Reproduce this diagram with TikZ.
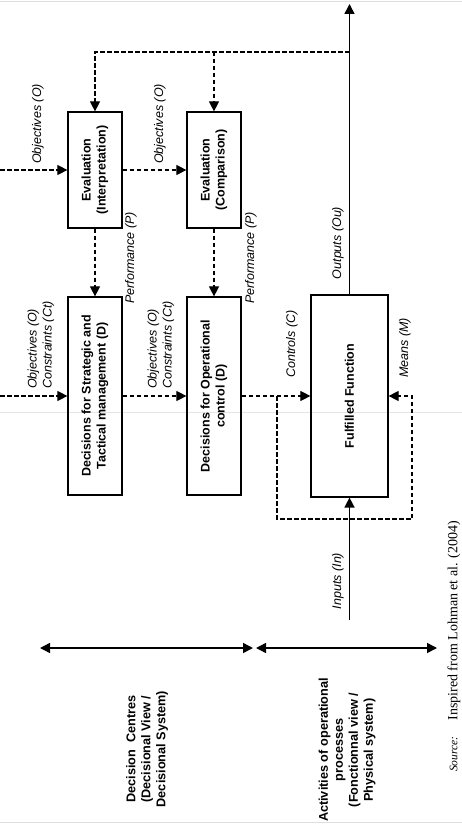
\documentclass[tikz,border=0pt]{standalone}
\usepackage{fontspec}
\setmainfont{Liberation Sans}
\newfontfamily\srcfont{Liberation Serif}
\usetikzlibrary{arrows.meta}
\begin{document}
\begin{tikzpicture}[x=1pt,y=-1pt,
  box/.style={draw, line width=1.2pt, minimum width=54pt, inner sep=0pt,
    font=\bfseries\fontsize{12.5}{15}\selectfont},
  lab/.style={rotate=90, inner sep=0pt, font=\itshape\fontsize{12.5}{15}\selectfont},
  blab/.style={rotate=90, inner sep=0pt, align=center, font=\bfseries\fontsize{12.7}{15}\selectfont},
  dl/.style={dash pattern=on 4.5pt off 2.5pt, line width=1.1pt},
  tip/.style={-{Triangle[length=10pt,width=10pt]}},
  solidl/.style={line width=1.5pt},
  artifact/.style={draw=gray!25, line width=0.8pt}
]
\useasboundingbox (0,0) rectangle (462,826);
% faint scan lines
\draw[artifact] (0,1.5) -- (462,1.5);
\draw[artifact] (0,822) -- (462,822);
\draw[draw=gray!20, line width=0.5pt] (0,412) -- (462,412);

% boxes
\node[box, minimum height=116pt] (b1) at (95,170)
  {\rotatebox{90}{\begin{tabular}{@{}c@{}}Evaluation\\(Interpretation)\end{tabular}}};
\node[box, minimum height=116pt] (b2) at (214,170)
  {\rotatebox{90}{\begin{tabular}{@{}c@{}}Evaluation\\(Comparison)\end{tabular}}};
\node[box, minimum height=198pt] (b3) at (95,396)
  {\rotatebox{90}{\begin{tabular}{@{}c@{}}Decisions for Strategic and\\Tactical management (D)\end{tabular}}};
\node[box, minimum height=198pt] (b4) at (214,396)
  {\rotatebox{90}{\begin{tabular}{@{}c@{}}Decisions for Operational\\control (D)\end{tabular}}};
\node[box, minimum width=77pt, minimum height=202pt] (b5) at (349.5,396)
  {\rotatebox{90}{Fulfilled Function}};

% coordinates
\coordinate (inE) at (0,170);
\coordinate (inD) at (0,396);
\coordinate (topR) at (349.5,52);
\coordinate (topM) at (214,52);
\coordinate (outEnd) at (349.5,4);
\coordinate (inStart) at (349.5,620);
\coordinate (fbA) at (277,396);
\coordinate (fbB) at (412,519);
\coordinate (da1) at (40,648);
\coordinate (da2) at (253,648);
\coordinate (da3) at (256,648);
\coordinate (da4) at (437,648);

% dashed connectors
\draw[dl, tip] (inE) -- (b1.west);
\draw[dl, tip] (b1.east) -- (b2.west);
\draw[dl, tip] (topR) -| (b1.north);
\draw[dl, tip] (topM) -- (b2.north);
\draw[dl, tip] (b1.south) -- (b3.north);
\draw[dl, tip] (b2.south) -- (b4.north);
\draw[dl, tip] (inD) -- (b3.west);
\draw[dl, tip] (b3.east) -- (b4.west);
\draw[dl, tip] (b4.east) -- (b5.west);
\draw[dl, tip] (fbA) |- (fbB) |- (b5.east);

% solid connectors
\draw[solidl, tip] (b5.north) -- (outEnd);
\draw[solidl, tip] (inStart) -- (b5.south);
\draw[solidl, {Triangle[length=10pt,width=10pt]}-{Triangle[length=10pt,width=10pt]}] (da1) -- (da2);
\draw[solidl, {Triangle[length=10pt,width=10pt]}-{Triangle[length=10pt,width=10pt]}] (da3) -- (da4);

% italic labels
\node[lab] (lo1) at (38,124) {Objectives (O)};
\node[lab] (lo2) at (160,124) {Objectives (O)};
\node[lab] (lp1) at (131,258) {Performance (P)};
\node[lab] (lp2) at (251,258) {Performance (P)};
\node[lab] (lou) at (338,243) {Outputs (Ou)};
\node[lab, anchor=west, align=left] (loc1) at (41,389) {Objectives (O)\\Constraints (Ct)};
\node[lab, anchor=west, align=left] (loc2) at (161,389) {Objectives (O)\\Constraints (Ct)};
\node[lab, anchor=west] (lc) at (292,378) {Controls (C)};
\node[lab, anchor=west] (lm) at (405,378) {Means (M)};
\node[lab] (lin) at (338,581) {Inputs (In)};

% bold bottom labels
\node[blab] (dc) at (147,749) {Decision\ \ Centres\\(Decisional View /\\Decisional System)};
\node[blab] (ao) at (347,750) {Activities of operational\\processes\\(Fonctionnal view /\\Physical system)};

% source
\node[rotate=90, anchor=west, inner sep=0pt, font=\srcfont\fontsize{14}{16}\selectfont] (src) at (454,772)
  {{\fontsize{11.5}{14}\selectfont\itshape Source:}\hspace{16pt}Inspired from Lohman et al. (2004)};
\end{tikzpicture}
\end{document}
